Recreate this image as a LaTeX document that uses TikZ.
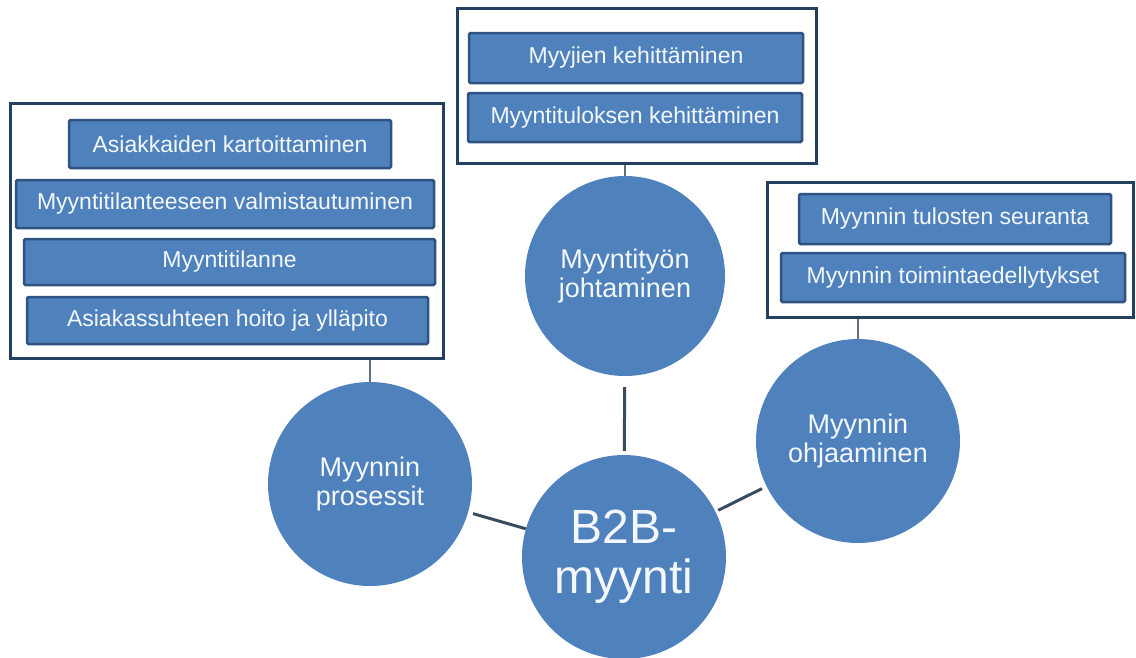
\documentclass[tikz,border=0pt]{standalone}
\usepackage{fontspec}
\setmainfont{Liberation Sans}
\definecolor{cfill}{HTML}{4F81BD}
\definecolor{cedge}{HTML}{2F5280}
\definecolor{oedge}{HTML}{24405F}
\definecolor{lnk}{HTML}{3B4B5E}
\definecolor{txt}{HTML}{F4F8FC}
\tikzset{
  outerbox/.style={draw=oedge, line width=3pt, fill=white, rectangle, inner sep=0pt},
  itembox/.style={draw=cedge, line width=2.5pt, fill=cfill, rectangle, rounded corners=1.5pt, inner sep=0pt, text=txt, font=\fontsize{23}{26}\selectfont},
  topic/.style={circle, fill=cfill, inner sep=0pt, minimum size=204pt, text=txt, align=center, font=\fontsize{27}{29}\selectfont},
  link/.style={draw=lnk, line width=3pt},
  tie/.style={draw=lnk!80, line width=1.2pt}
}
\begin{document}
\begin{tikzpicture}[x=1pt,y=-1pt]
\useasboundingbox (0,0) rectangle (1136,657);
% outer boxes
\node[outerbox, minimum width=433pt, minimum height=255pt] (L) at (226.5,230.5) {};
\node[outerbox, minimum width=359pt, minimum height=155pt] (T) at (636.5,85.5) {};
\node[outerbox, minimum width=366pt, minimum height=135pt] (R) at (950,249.5) {};
% items
\node[itembox, minimum width=322pt, minimum height=48pt] (a1) at (230,144) {Asiakkaiden kartoittaminen};
\node[itembox, minimum width=418pt, minimum height=48pt] (a2) at (225,204) {Myyntitilanteeseen valmistautuminen};
\node[itembox, minimum width=411pt, minimum height=46pt] (a3) at (229.5,262) {Myyntitilanne};
\node[itembox, minimum width=401pt, minimum height=47pt] (a4) at (227.5,320.5) {Asiakassuhteen hoito ja ylläpito};
\node[itembox, minimum width=334pt, minimum height=50pt] (b1) at (636,58) {Myyjien kehittäminen};
\node[itembox, minimum width=334pt, minimum height=49pt] (b2) at (635,117.5) {Myyntituloksen kehittäminen};
\node[itembox, minimum width=312pt, minimum height=50pt] (c1) at (955,219) {Myynnin tulosten seuranta};
\node[itembox, minimum width=344pt, minimum height=49pt] (c2) at (953,277.5) {Myynnin toimintaedellytykset};
% circles
\node[topic] (pro) at (370,484) {Myynnin\\prosessit};
\node[topic, minimum size=200pt] (joh) at (625,276) {Myyntityön\\johtaminen};
\node[topic] (ohj) at (858,441) {Myynnin\\ohjaaminen};
\node[topic, font=\fontsize{48}{50}\selectfont] (b2b) at (624,557) {B2B-\\myynti};
% ties from boxes to circles
\draw[tie] (pro.north |- L.south) -- (pro.north);
\draw[tie] (joh.north |- T.south) -- (joh.north);
\draw[tie] (ohj.north |- R.south) -- (ohj.north);
% links
\draw[link, shorten <=5pt] (pro) -- (b2b);
\draw[link, shorten <=11pt, shorten >=4pt] (joh) -- (b2b);
\draw[link, shorten <=5pt, shorten >=3pt] (ohj) -- (b2b);
\end{tikzpicture}
\end{document}
